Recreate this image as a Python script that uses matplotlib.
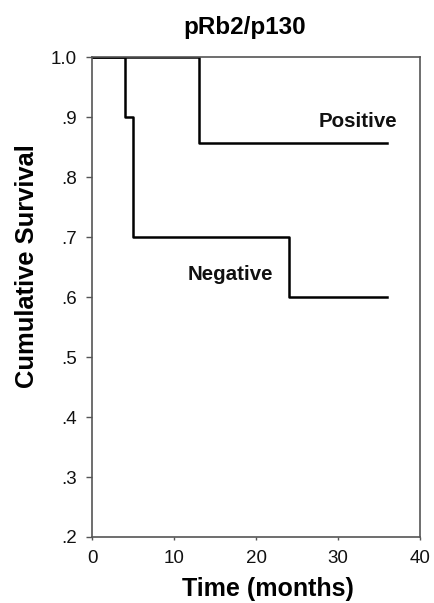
import matplotlib.pyplot as plt
import numpy as np

plt.rcParams['font.family'] = ['Liberation Sans', 'DejaVu Sans']

# Kaplan-Meier step data
pos_time = [0, 13, 36]
pos_surv = [1.0, 0.857, 0.857]
neg_time = [0, 4, 5, 24, 36]
neg_surv = [1.0, 0.9, 0.7, 0.6, 0.6]

yticks = [0.2, 0.3, 0.4, 0.5, 0.6, 0.7, 0.8, 0.9, 1.0]
ytick_labels = ['.2', '.3', '.4', '.5', '.6', '.7', '.8', '.9', '1.0']
xticks = [0, 10, 20, 30, 40]

fig = plt.figure(figsize=(4.34, 6.03), dpi=100)
ax = fig.add_axes([0.212, 0.1095, 0.756, 0.7955])

ax.step(pos_time, pos_surv, where='post', color='black', lw=1.8)
ax.step(neg_time, neg_surv, where='post', color='black', lw=1.8)

ax.text(32.4, 0.893, 'Positive', ha='center', va='center', fontsize=14.8, fontweight='bold', color='#111111')
ax.text(16.9, 0.638, 'Negative', ha='center', va='center', fontsize=14.8, fontweight='bold', color='#111111')

ax.set_xlim(0, 40)
ax.set_ylim(0.2, 1.0)
ax.set_xticks(xticks)
ax.set_yticks(yticks)
ax.set_yticklabels(ytick_labels)
ax.tick_params(axis='y', direction='out', length=4, width=1, color='#555555', labelsize=13.5, labelcolor='#111111', pad=7)
ax.tick_params(axis='x', direction='out', length=2.5, width=1, color='#555555', labelsize=13.5, labelcolor='#111111', pad=7)
for s in ax.spines.values():
    s.set_color('#555555')
    s.set_linewidth(1.2)

ax.text(0.466, 1.063, 'pRb2/p130', transform=ax.transAxes, ha='center', va='center', fontsize=17.5, fontweight='bold')
ax.set_xlabel('Time (months)', fontsize=18, fontweight='bold', va='center')
ax.xaxis.set_label_coords(0.537, -0.108)
ax.set_ylabel('Cumulative Survival', fontsize=18.4, fontweight='bold', va='center')
ax.yaxis.set_label_coords(-0.198, 0.565)

fig.savefig('out.png', dpi=100)
